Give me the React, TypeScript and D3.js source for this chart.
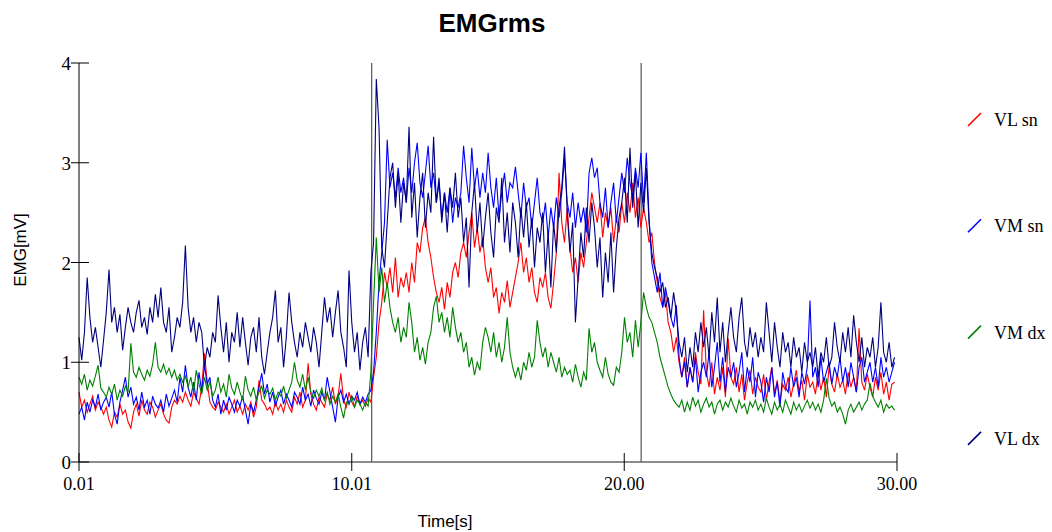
import React from 'react';
import * as d3 from 'd3';

const TITLE = 'EMGrms';
const X_LABEL = 'Time[s]';
const Y_LABEL = 'EMG[mV]';
const X_TICKS = [0.01, 10.01, 20.0, 30.0];
const X_TICK_LABELS = ['0.01', '10.01', '20.00', '30.00'];
const Y_TICKS = [0, 1, 2, 3, 4];
const MARKERS = [10.74, 20.62];
const T_START = 0.01;
const T_STEP = 0.1;

// VL sn (red), one row per second
const VL_SN = [
  0.70, 0.55, 0.62, 0.50, 0.58, 0.66, 0.52, 0.60, 0.55, 0.48,
  0.55, 0.42, 0.35, 0.50, 0.45, 0.58, 0.48, 0.52, 0.40, 0.34,
  0.50, 0.58, 0.46, 0.62, 0.52, 0.48, 0.60, 0.55, 0.45, 0.52,
  0.58, 0.48, 0.42, 0.39, 0.55, 0.62, 0.58, 0.66, 0.60, 0.70,
  0.62, 0.56, 0.70, 0.64, 0.58, 0.75, 1.09, 0.80, 0.60, 0.55,
  0.52, 0.60, 0.55, 0.50, 0.58, 0.48, 0.55, 0.62, 0.50, 0.56,
  0.48, 0.58, 0.52, 0.60, 0.45, 0.55, 0.82, 0.62, 0.58, 0.52,
  0.55, 0.48, 0.60, 0.52, 0.58, 0.50, 0.62, 0.55, 0.50, 0.65,
  0.58, 0.70, 0.55, 0.62, 0.99, 0.68, 0.58, 0.52, 0.65, 0.60,
  0.55, 0.68, 0.62, 0.75, 0.58, 0.66, 0.89, 0.62, 0.55, 0.70,
  0.60, 0.55, 0.66, 0.58, 0.62, 0.56, 0.64, 0.60, 0.85, 1.05,
  1.40, 1.60, 1.90, 1.75, 1.95, 1.70, 2.05, 1.65, 1.85, 1.75,
  1.90, 1.70, 2.00, 1.80, 2.20, 2.10, 2.35, 2.45, 2.20, 2.05,
  1.85, 1.70, 1.60, 1.75, 1.53, 1.80, 1.65, 1.90, 2.00, 1.85,
  2.10, 2.20, 2.05, 2.30, 2.50, 2.15, 2.35, 2.10, 2.25, 1.95,
  1.80, 1.95, 1.65, 1.75, 1.49, 1.70, 1.60, 1.82, 1.55, 1.70,
  1.85, 2.00, 2.20, 1.90, 2.05, 1.80, 1.95, 1.70, 1.60, 1.85,
  1.75, 1.90, 1.65, 1.54, 1.80, 2.10, 2.90, 2.40, 2.20, 2.55,
  2.15, 1.90, 2.05, 1.80, 2.10, 1.95, 2.20, 2.45, 2.70, 2.55,
  2.40, 2.60, 2.25, 2.50, 2.35, 2.55, 2.20, 2.45, 2.30, 2.60,
  2.40, 2.70, 2.50, 2.80, 2.45, 2.65, 2.35, 2.55, 2.40, 2.20,
  2.30, 2.00, 1.80, 1.65, 1.55, 1.70, 1.40, 1.30, 1.10, 1.25,
  1.00, 0.85, 1.05, 0.75, 0.95, 0.80, 1.10, 0.90, 0.78, 1.52,
  0.90, 0.75, 1.00, 0.68, 0.85, 0.72, 0.95, 0.65, 1.24, 0.85,
  0.78, 0.95, 0.70, 0.88, 0.62, 0.80, 0.92, 0.68, 0.85, 0.75,
  0.70, 0.88, 0.62, 0.80, 0.95, 0.68, 0.82, 0.60, 0.78, 0.72,
  0.85, 0.65, 0.78, 0.92, 0.70, 0.82, 0.62, 0.88, 0.75, 0.80,
  0.68, 0.90, 0.72, 0.85, 0.65, 0.95, 0.78, 0.70, 0.88, 0.75,
  0.82, 0.68, 0.90, 0.75, 0.85, 0.70, 1.34, 0.80, 0.72, 0.88,
  0.75, 0.65, 0.85, 0.72, 0.90, 0.68, 0.80, 0.62, 0.78, 0.80,
];

// VM sn (blue)
const VM_SN = [
  0.48, 0.55, 0.42, 0.60, 0.50, 0.62, 0.55, 0.68, 0.52, 0.60,
  0.65, 0.55, 0.70, 0.48, 0.38, 0.60, 0.72, 0.85, 0.65, 0.75,
  0.58, 0.65, 0.52, 0.70, 0.55, 0.62, 0.48, 0.66, 0.58, 0.54,
  0.62, 0.50, 0.68, 0.56, 0.64, 0.72, 0.60, 0.85, 0.70, 0.97,
  0.75, 0.65, 0.80, 0.62, 0.90, 0.70, 0.97, 0.78, 0.85, 0.62,
  0.55, 0.68, 0.48, 0.62, 0.52, 0.65, 0.58, 0.50, 0.62, 0.56,
  0.66, 0.52, 0.38, 0.58, 0.50, 0.62, 0.75, 0.89, 0.68, 0.78,
  0.60, 0.70, 0.56, 0.65, 0.72, 0.58, 0.68, 0.62, 0.55, 0.70,
  0.65, 0.58, 0.75, 0.62, 0.68, 0.56, 0.72, 0.64, 0.58, 0.70,
  0.62, 0.85, 0.70, 0.55, 0.40, 0.65, 0.72, 0.60, 0.68, 0.58,
  0.66, 0.62, 0.70, 0.58, 0.65, 0.60, 0.68, 0.72, 0.90, 1.30,
  1.80, 2.10, 2.40, 3.23, 2.75, 2.90, 2.65, 2.95, 2.70, 2.85,
  2.60, 2.95, 2.70, 3.00, 3.20, 2.80, 2.65, 2.90, 3.17, 2.75,
  2.90, 2.60, 2.80, 2.45, 2.70, 2.50, 2.75, 2.40, 2.65, 2.55,
  2.70, 3.17, 2.85, 2.60, 3.15, 2.75, 2.95, 2.65, 2.90, 2.70,
  3.10, 2.75, 2.55, 2.85, 2.45, 2.70, 2.90, 2.60, 2.80, 2.75,
  2.96, 2.70, 2.45, 2.80, 2.55, 2.65, 2.35, 2.60, 2.85, 2.50,
  2.40, 2.60, 2.25, 2.55, 2.35, 2.65, 2.45, 2.70, 3.05, 2.60,
  2.45, 2.70, 2.35, 2.60, 2.40, 2.55, 2.30, 2.90, 3.05, 2.85,
  2.95, 2.60, 2.45, 2.75, 2.35, 2.60, 2.80, 2.40, 2.65, 2.90,
  2.70, 3.05, 2.80, 2.65, 2.95, 2.75, 3.10, 2.60, 3.10, 2.45,
  2.00, 1.85, 1.70, 1.90, 1.55, 1.75, 1.60, 1.45, 1.35, 1.57,
  1.05, 0.85, 1.00, 0.75, 0.95, 0.80, 1.05, 0.70, 0.90, 1.00,
  0.85, 1.10, 0.75, 0.95, 1.20, 0.80, 1.05, 0.70, 0.95, 0.85,
  1.00, 0.75, 0.90, 1.10, 0.70, 0.95, 0.80, 1.05, 0.65, 0.90,
  0.80, 0.60, 0.85, 0.70, 0.95, 0.65, 0.80, 0.55, 0.90, 0.75,
  0.70, 0.95, 0.75, 0.85, 0.65, 0.90, 0.78, 0.95, 1.62, 0.85,
  0.95, 0.75, 1.05, 0.80, 0.90, 1.00, 0.78, 0.95, 0.85, 1.05,
  0.80, 0.95, 0.75, 1.00, 0.85, 0.70, 0.95, 1.05, 0.80, 0.90,
  1.00, 0.80, 0.95, 0.75, 1.05, 0.85, 0.95, 0.80, 0.90, 1.00,
];

// VM dx (green)
const VM_DX = [
  0.85, 0.78, 0.88, 0.72, 0.82, 0.76, 0.86, 0.97, 0.74, 0.70,
  0.65, 0.75, 0.68, 0.78, 0.62, 0.72, 0.66, 0.76, 0.70, 1.19,
  0.90, 0.85, 0.95, 0.88, 0.82, 0.92, 0.86, 0.98, 1.20, 0.95,
  0.90, 0.98, 0.88, 0.94, 0.85, 0.92, 0.82, 0.88, 0.80, 0.86,
  0.75, 0.85, 0.70, 0.92, 0.78, 0.68, 0.85, 0.72, 0.80, 0.66,
  0.72, 0.85, 0.70, 0.78, 0.65, 0.88, 0.74, 0.68, 0.80, 0.70,
  0.62, 0.86, 0.72, 0.66, 0.75, 0.62, 0.70, 0.76, 0.64, 0.72,
  0.68, 0.74, 0.62, 0.70, 0.66, 0.76, 0.64, 0.72, 0.80, 1.00,
  0.82, 0.75, 0.88, 0.72, 0.85, 0.70, 0.64, 0.72, 0.66, 0.74,
  0.62, 0.70, 0.58, 0.66, 0.60, 0.68, 0.55, 0.44, 0.60, 0.58,
  0.66, 0.55, 0.62, 0.58, 0.52, 0.60, 0.56, 0.90, 1.60, 2.25,
  1.70, 1.95, 1.60, 1.80, 1.55, 1.40, 1.30, 1.45, 1.20, 1.35,
  1.25, 1.60, 1.40, 1.10, 1.25, 1.02, 1.15, 0.98, 1.20, 1.30,
  1.55, 1.66, 1.40, 1.50, 1.30, 1.45, 1.25, 1.55, 1.35, 1.20,
  1.30, 1.10, 1.20, 0.95, 1.05, 0.87, 1.00, 0.92, 1.20, 1.35,
  1.25, 1.10, 1.30, 1.05, 1.20, 1.00, 1.15, 1.45, 1.10, 0.95,
  0.85, 0.95, 0.82, 1.00, 0.92, 1.10, 0.95, 1.05, 1.42, 1.20,
  1.05, 1.15, 0.95, 1.10, 1.00, 0.90, 1.05, 0.85, 0.95, 0.88,
  0.92, 0.80, 0.98, 0.85, 0.75, 0.90, 0.82, 1.34, 1.10, 1.20,
  1.00, 0.92, 0.85, 1.05, 0.88, 0.80, 0.77, 0.95, 0.90, 1.10,
  1.45, 1.20, 1.30, 1.05, 1.42, 1.15, 1.40, 1.70, 1.55, 1.45,
  1.40, 1.30, 1.20, 1.05, 0.95, 0.85, 0.75, 0.68, 0.62, 0.58,
  0.55, 0.62, 0.50, 0.60, 0.52, 0.65, 0.56, 0.62, 0.50, 0.58,
  0.64, 0.55, 0.60, 0.48, 0.58, 0.62, 0.52, 0.60, 0.55, 0.64,
  0.56, 0.50, 0.62, 0.54, 0.58, 0.48, 0.60, 0.55, 0.62, 0.52,
  0.58, 0.50, 0.64, 0.55, 0.48, 0.60, 0.52, 0.58, 0.50, 0.62,
  0.55, 0.48, 0.60, 0.52, 0.58, 0.50, 0.56, 0.62, 0.54, 0.60,
  0.52, 0.58, 0.50, 0.62, 0.84, 0.64, 0.56, 0.60, 0.50, 0.55,
  0.48, 0.38, 0.52, 0.58, 0.50, 0.55, 0.60, 0.52, 0.58, 0.62,
  0.79, 0.66, 0.60, 0.55, 0.62, 0.50, 0.58, 0.54, 0.56, 0.52,
];

// VL dx (navy)
const VL_DX = [
  1.25, 1.02, 1.30, 1.85, 1.45, 1.20, 1.35, 1.15, 0.95, 1.22,
  1.50, 1.93, 1.40, 1.55, 1.30, 1.48, 1.12, 1.35, 1.55, 1.40,
  1.30, 1.50, 1.62, 1.35, 1.45, 1.28, 1.55, 1.40, 1.68, 1.45,
  1.75, 1.40, 1.30, 1.55, 1.10, 1.25, 1.45, 1.35, 1.60, 2.17,
  1.55, 1.30, 1.45, 1.20, 1.40, 1.30, 0.95, 1.15, 1.05, 1.30,
  1.20, 1.67, 1.35, 1.10, 1.40, 1.00, 1.30, 1.20, 1.50, 1.15,
  1.45, 1.20, 0.97, 1.25, 1.35, 1.10, 1.45, 1.05, 0.88, 1.10,
  1.30, 1.45, 1.72, 1.20, 1.35, 0.95, 1.25, 1.70, 1.40, 1.20,
  1.05, 1.30, 1.15, 1.40, 1.25, 1.10, 1.35, 1.20, 0.95, 1.30,
  1.65, 1.40, 1.55, 1.25, 1.50, 1.72, 1.30, 1.15, 0.95, 1.92,
  1.40, 1.10, 1.30, 0.92, 1.20, 1.35, 1.05, 1.90, 2.20, 3.84,
  3.35, 2.15, 1.95, 2.40, 2.85, 3.00, 2.55, 2.90, 2.40, 2.80,
  2.60, 3.36, 2.45, 2.80, 2.25, 2.65, 2.90, 2.35, 2.70, 2.50,
  3.26, 2.60, 2.85, 2.40, 2.70, 2.30, 2.75, 2.55, 2.90, 2.45,
  2.65, 2.20, 2.45, 1.75, 2.50, 2.80, 2.30, 2.60, 2.15, 2.45,
  2.70, 2.30, 2.05, 2.55, 2.40, 2.85, 2.20, 2.50, 2.10, 2.60,
  2.40, 2.05, 2.55, 2.25, 2.60, 2.15, 2.45, 1.95, 2.35, 2.20,
  2.50, 1.90, 2.30, 1.75, 2.40, 2.10, 2.55, 2.75, 3.16, 2.50,
  2.10, 2.40, 1.40, 1.85, 2.30, 2.05, 2.55, 2.20, 2.60, 2.35,
  1.95, 2.25, 1.65, 2.10, 1.80, 2.30, 1.70, 2.15, 2.45, 2.60,
  2.85, 2.40, 3.15, 2.55, 2.90, 2.35, 2.80, 2.50, 2.95, 2.40,
  2.10, 1.95, 1.85, 1.70, 1.80, 1.55, 1.65, 1.45, 1.70, 1.50,
  1.20, 1.05, 1.25, 0.90, 1.15, 0.95, 1.30, 1.10, 1.40, 1.15,
  1.35, 1.05, 1.50, 1.20, 1.65, 1.10, 1.40, 1.00, 1.30, 1.55,
  1.25, 1.10, 1.45, 1.65, 1.20, 1.05, 1.35, 1.15, 1.30, 1.05,
  1.25, 1.10, 1.60, 1.30, 1.00, 1.40, 1.15, 0.95, 1.30, 1.10,
  1.20, 0.95, 1.25, 1.05, 1.15, 0.90, 1.20, 1.00, 1.10, 0.95,
  1.15, 0.85, 1.10, 1.00, 1.25, 0.95, 1.05, 1.40, 1.15, 1.00,
  1.30, 1.10, 1.35, 1.05, 1.47, 1.20, 1.00, 1.25, 0.95, 1.15,
  1.05, 1.25, 0.95, 1.15, 1.60, 1.10, 1.00, 1.20, 0.95, 1.05,
];

const SERIES = [
  { name: 'VL sn', color: '#ff0000', values: VL_SN },
  { name: 'VM sn', color: '#0000ff', values: VM_SN },
  { name: 'VM dx', color: '#008000', values: VM_DX },
  { name: 'VL dx', color: '#000080', values: VL_DX },
];

const W = 1052;
const H = 532;
const margin = { top: 63, right: 155, bottom: 70, left: 79 };

const SERIF = '"Liberation Serif", "Times New Roman", serif';
const SANS = '"Liberation Sans", Arial, sans-serif';

export default function App() {
  const x = d3.scaleLinear().domain([0.01, 30.0]).range([margin.left, W - margin.right]);
  const y = d3.scaleLinear().domain([0, 4]).range([H - margin.bottom, margin.top]);

  const line = d3
    .line<number>()
    .x((_, i) => x(T_START + i * T_STEP))
    .y((d) => y(d));

  const legendTop = 126;
  const legendGap = 106.3;

  return (
    <svg
      width={W}
      height={H}
      style={{ position: 'absolute', left: 0, top: 0, background: '#fff' }}
    >
      <text x={492} y={32} textAnchor="middle" fontFamily={SANS} fontWeight="bold" fontSize={26}>
        {TITLE}
      </text>

      {/* event markers */}
      {MARKERS.map((m) => (
        <line key={m} x1={x(m)} x2={x(m)} y1={y(4)} y2={y(0)} stroke="#555" strokeWidth={1.2} />
      ))}

      {SERIES.map((s) => (
        <path key={s.name} d={line(s.values) || ''} fill="none" stroke={s.color} strokeWidth={1.1} />
      ))}

      {/* axes */}
      <line x1={x(0.01)} x2={x(0.01)} y1={y(4)} y2={y(0)} stroke="#000" strokeWidth={1} />
      <line x1={x(0.01)} x2={x(30)} y1={y(0)} y2={y(0)} stroke="#666" strokeWidth={1.5} />

      {Y_TICKS.map((t) => (
        <g key={t}>
          <line x1={x(0.01) - 8} x2={x(0.01) + 10} y1={y(t)} y2={y(t)} stroke="#000" strokeWidth={1} />
          <text x={x(0.01) - 8} y={y(t) + 7} textAnchor="end" fontFamily={SERIF} fontSize={19}>
            {t}
          </text>
        </g>
      ))}

      {X_TICKS.map((t, i) => (
        <g key={t}>
          <line x1={x(t)} x2={x(t)} y1={y(0) - 9} y2={y(0) + 9} stroke="#000" strokeWidth={1} />
          <text x={x(t)} y={490} textAnchor="middle" fontFamily={SERIF} fontSize={18}>
            {X_TICK_LABELS[i]}
          </text>
        </g>
      ))}

      <text x={445} y={527} textAnchor="middle" fontFamily={SANS} fontSize={17}>
        {X_LABEL}
      </text>
      <text
        transform={`translate(26, 250) rotate(-90)`}
        textAnchor="middle"
        fontFamily={SANS}
        fontSize={17}
      >
        {Y_LABEL}
      </text>

      {SERIES.map((s, i) => {
        const by = legendTop + i * legendGap;
        return (
          <g key={s.name}>
            <line x1={968} x2={981} y1={by} y2={by - 13} stroke={s.color} strokeWidth={1.6} />
            <text x={994} y={by} fontFamily={SERIF} fontSize={18}>
              {s.name}
            </text>
          </g>
        );
      })}
    </svg>
  );
}
